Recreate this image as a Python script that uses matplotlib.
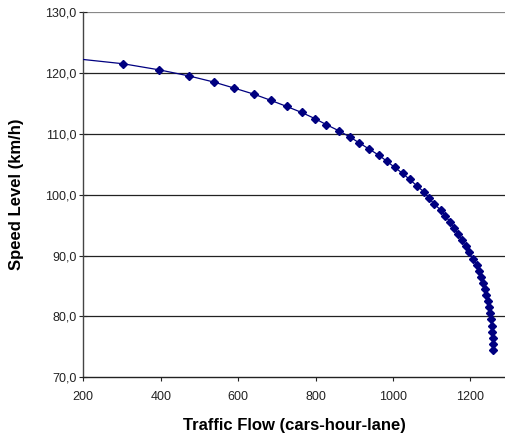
import matplotlib.pyplot as plt
from matplotlib.ticker import FuncFormatter

plt.rcParams['font.family'] = ['Liberation Sans', 'DejaVu Sans']

# values
flow = [156, 303, 396, 473, 537, 590, 641, 684, 725, 764, 798, 828, 860,
        888, 913, 938, 963, 984, 1004, 1025, 1043, 1061, 1079, 1092, 1106,
        1123, 1135, 1148, 1157, 1169, 1178, 1188, 1197, 1206, 1216, 1221,
        1227, 1232, 1237, 1241, 1245, 1248, 1251, 1253, 1255, 1257, 1258,
        1259, 1259]
speed = [122.5, 121.5, 120.5, 119.5, 118.5, 117.5, 116.5, 115.5, 114.5,
         113.5, 112.5, 111.5, 110.5, 109.5, 108.5, 107.5, 106.5, 105.5,
         104.5, 103.5, 102.5, 101.5, 100.5, 99.5, 98.5, 97.5, 96.5, 95.5,
         94.5, 93.5, 92.5, 91.5, 90.5, 89.5, 88.5, 87.5, 86.5, 85.5, 84.5,
         83.5, 82.5, 81.5, 80.5, 79.5, 78.5, 77.5, 76.5, 75.5, 74.5]
x_ticks = [200, 400, 600, 800, 1000, 1200]
y_ticks = [70, 80, 90, 100, 110, 120, 130]

fig = plt.figure(figsize=(5.06, 4.43), dpi=100)
ax = fig.add_axes([0.1646, 0.1483, 0.8354, 0.8246])

for yv in y_ticks[1:-1]:
    ax.axhline(yv, color='#222222', lw=0.9, zorder=1)
ax.axhline(130, color='#888888', lw=1.6, zorder=1)

ax.plot(flow, speed, '-D', color='#000080', lw=0.9, ms=4.3, zorder=3)

ax.set_xlim(200, 1292)
ax.set_ylim(70, 130)
ax.set_xticks(x_ticks)
ax.set_yticks(y_ticks)
ax.yaxis.set_major_formatter(FuncFormatter(lambda v, pos: ("%.1f" % v).replace('.', ',')))

for s in ['top', 'right']:
    ax.spines[s].set_visible(False)
ax.spines['left'].set_color('#444444')
ax.spines['bottom'].set_color('#222222')
ax.spines['left'].set_linewidth(1.0)
ax.spines['bottom'].set_linewidth(1.0)

ax.tick_params('y', direction='inout', length=6, width=0.8, labelsize=9, pad=2, colors='#222222')
ax.tick_params('x', direction='out', length=3, width=0.8, labelsize=9, pad=7, colors='#222222')

ax.set_xlabel('Traffic Flow (cars-hour-lane)', fontsize=12, fontweight='bold', labelpad=11)
ax.set_ylabel('Speed Level (km/h)', fontsize=12, fontweight='bold', labelpad=15)

fig.savefig('out.png', dpi=100)
